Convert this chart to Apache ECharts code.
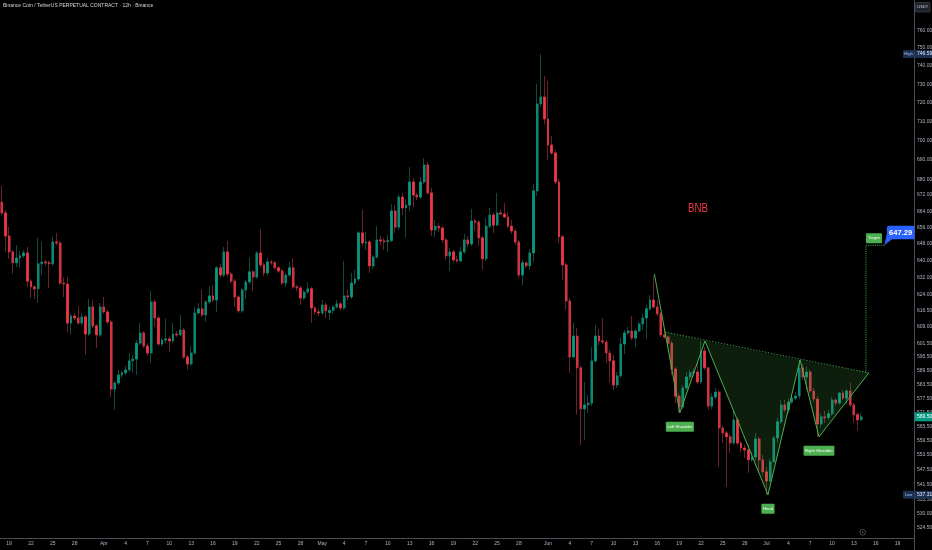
<!DOCTYPE html>
<html><head><meta charset="utf-8">
<script src="https://cdn.jsdelivr.net/npm/echarts@6/dist/echarts.min.js"></script>
<style>html,body{margin:0;padding:0;background:#000;}#c{width:932px;height:550px;}</style>
</head><body><div id="c"></div>
<script>
// ---- data ----
const startDate = '2024-03-18T00:00:00Z';   // first 12h candle
const slotCount = 251;                       // candle slots incl. empty future space
const opens = [668.5,663.1,651.8,644.1,638.9,641.2,642.2,643.6,630.2,627.5,626.6,638.4,639.3,638.9,638.4,648.9,648.4,629.3,628.8,610.8,
614.0,613.1,610.8,613.6,605.8,618.2,609.5,605.4,618.2,615.9,611.3,581.4,584.1,587.6,588.5,589.8,593.8,594.6,601.7,606.3,
600.4,597.3,620.5,613.1,601.3,603.1,603.6,602.7,605.8,605.4,607.6,595.5,592.4,597.3,615.4,617.3,614.5,620.5,623.3,621.4,
636.5,633.1,644.1,633.6,630.2,622.8,616.4,626.1,629.8,634.6,632.1,643.6,637.9,634.1,639.3,638.9,636.5,635.0,629.3,633.1,
636.5,627.5,627.0,622.3,625.1,626.6,617.7,615.9,615.4,619.1,615.6,616.6,618.2,619.6,617.7,623.3,622.8,629.3,631.2,653.3,
648.4,648.9,637.4,641.6,649.9,649.4,649.0,649.6,664.1,656.1,671.0,665.6,667.0,678.6,672.0,671.0,678.6,687.3,673.1,654.7,
656.6,655.7,649.9,642.2,644.1,640.3,639.8,644.1,649.9,647.9,659.1,658.6,650.9,640.8,656.6,662.1,657.1,663.1,662.6,661.1,
656.6,654.2,648.9,633.1,638.9,637.4,643.6,674.1,719.3,723.0,711.3,697.6,693.5,678.6,651.4,637.9,620.9,595.5,604.9,590.7,
572.9,574.6,575.4,593.8,604.9,602.7,602.2,597.3,593.8,583.2,587.2,601.3,606.3,607.2,604.0,607.2,610.4,613.1,617.3,621.4,
618.2,615.0,605.4,604.5,601.7,590.2,578.4,573.7,581.9,586.7,588.5,588.9,584.5,598.2,590.7,574.1,578.0,580.1,564.8,562.7,
561.1,558.5,568.2,558.5,556.4,555.6,551.5,552.7,560.2,551.5,546.6,542.9,550.7,560.6,567.4,574.6,572.5,575.8,577.5,578.4,
590.7,586.7,588.9,580.6,577.1,566.5,569.5,569.1,570.8,576.7,575.4,579.7,577.5,580.6,574.6,570.4,568.2];
const closes = [663.1,651.8,644.1,638.9,641.2,642.2,643.6,630.2,627.5,626.6,638.4,639.3,638.9,638.4,648.9,648.4,629.3,628.8,610.8,614.0,
613.1,610.8,613.6,605.8,618.2,609.5,605.4,618.2,615.9,611.3,581.4,584.1,587.6,588.5,589.8,593.8,594.6,601.7,606.3,600.4,
597.3,620.5,613.1,601.3,603.1,603.6,602.7,605.8,605.4,607.6,595.5,592.4,597.3,615.4,617.3,614.5,620.5,623.3,621.4,636.5,
633.1,644.1,633.6,630.2,622.8,616.4,626.1,629.8,634.6,632.1,643.6,637.9,634.1,639.3,638.9,636.5,635.0,629.3,633.1,636.5,
627.5,627.0,622.3,625.1,626.6,617.7,615.9,615.4,619.1,616.4,616.6,618.2,619.6,617.7,623.3,622.8,629.3,631.2,653.3,648.4,
648.9,637.4,641.6,649.9,649.4,649.0,649.6,664.1,656.1,671.0,665.6,667.0,678.6,672.0,671.0,678.6,687.3,673.1,654.7,656.6,
655.7,649.9,642.2,644.1,640.3,639.8,644.1,649.9,647.9,659.1,658.6,650.9,640.8,656.6,662.1,657.1,663.1,662.6,661.1,656.6,
654.2,648.9,633.1,638.9,637.4,643.6,674.1,719.3,723.0,711.3,697.6,693.5,678.6,651.4,637.9,620.9,595.5,604.9,590.7,572.9,
574.6,575.4,593.8,604.9,602.7,602.2,597.3,593.8,583.2,587.2,601.3,606.3,607.2,604.0,607.2,610.4,613.1,617.3,621.4,618.2,
615.0,605.4,604.5,601.7,590.2,578.4,573.7,581.9,586.7,588.5,588.9,584.5,598.2,590.7,574.1,578.0,580.1,564.8,562.7,561.1,
558.5,568.2,558.5,556.4,555.6,551.5,552.7,560.2,551.5,546.6,542.9,550.7,560.6,567.4,574.6,572.5,575.8,577.5,578.4,590.7,
586.7,588.9,580.6,577.1,566.5,569.5,569.1,570.8,576.7,575.4,579.7,577.5,580.6,574.6,570.4,568.2,569.5];
const highs = [676.6,664.6,656.2,645.0,647.4,644.5,645.0,646.5,631.2,628.4,650.9,648.9,640.3,639.8,651.4,653.3,649.4,632.1,632.1,614.8,
615.4,618.6,615.4,614.5,621.9,621.4,610.4,620.0,622.8,616.8,612.2,585.0,589.8,589.4,591.6,597.3,596.4,603.1,610.8,607.2,
601.7,625.6,621.4,614.0,604.0,612.7,604.5,610.8,607.2,614.5,608.5,596.4,600.4,618.2,620.0,626.1,621.4,627.9,628.4,637.4,
638.4,646.5,649.4,634.6,631.2,623.7,627.0,630.7,641.2,635.5,644.5,655.2,638.9,641.2,640.3,639.8,637.4,636.0,634.1,639.3,
640.8,628.4,627.9,626.1,629.8,627.5,618.6,617.3,621.4,620.0,618.2,619.1,621.4,620.5,639.8,626.1,634.1,635.5,654.2,664.6,
653.8,649.9,642.6,656.6,651.8,650.9,652.3,667.5,667.0,672.6,673.1,670.0,686.2,680.6,673.1,681.1,690.8,688.8,675.6,659.6,
658.1,656.6,650.9,646.0,645.0,642.2,646.5,652.8,651.8,665.1,660.1,659.6,651.8,660.6,665.6,663.1,673.1,664.6,668.0,663.6,
659.6,655.2,649.9,640.3,639.3,645.5,677.6,730.1,746.59,734.5,731.8,702.3,695.0,680.1,652.3,638.9,622.3,610.8,608.5,591.6,
584.5,578.8,599.9,609.9,608.1,613.1,603.1,598.6,596.4,588.9,604.0,607.6,609.0,614.0,608.1,611.3,615.0,619.1,623.7,632.6,
621.4,615.9,608.1,604.9,602.7,591.1,579.7,583.2,588.9,589.8,590.7,593.3,602.7,599.9,591.1,579.7,581.9,581.0,565.7,563.6,
562.3,572.5,569.1,559.4,557.7,557.7,554.8,562.7,561.1,553.5,548.6,551.9,561.5,569.1,576.7,576.7,577.5,579.3,580.1,594.2,
592.4,591.1,589.8,581.9,578.4,570.8,572.1,572.5,578.0,577.5,580.1,581.0,581.4,584.1,575.4,571.2,571.2];
const lows = [662.1,644.1,640.8,633.6,636.9,636.5,641.2,627.5,622.3,621.9,620.0,633.1,637.4,627.0,637.4,647.4,628.4,622.8,606.7,605.8,
612.2,609.9,609.5,596.4,604.9,608.5,599.5,604.5,615.0,610.4,578.0,572.5,583.2,586.3,587.6,588.9,588.5,587.6,600.8,599.5,
596.0,592.9,609.0,600.4,600.4,601.7,597.7,601.7,604.5,604.9,594.6,589.8,591.6,596.4,614.5,613.6,611.3,619.6,620.5,615.9,
632.1,632.1,632.6,629.3,618.2,615.4,615.4,621.9,628.8,625.6,631.2,636.9,632.6,633.1,637.9,635.5,634.1,628.4,627.5,632.1,
626.6,625.6,619.1,621.4,624.2,610.8,614.5,614.0,614.5,613.1,612.2,615.0,617.3,616.8,616.8,621.4,621.9,628.4,630.2,647.0,
645.0,634.1,636.0,640.8,647.4,645.0,644.1,648.9,653.3,654.7,662.1,650.9,664.1,666.0,669.5,670.0,677.6,672.1,651.8,651.4,
653.8,648.4,640.3,635.0,638.9,638.9,639.3,643.1,646.5,647.0,654.2,647.0,635.5,639.8,655.7,653.3,656.6,662.1,660.6,655.7,
652.8,647.4,631.7,628.4,636.5,635.5,639.3,671.6,717.7,708.4,689.8,692.4,677.6,648.4,630.7,616.8,588.5,595.1,570.4,557.7,
559.8,571.2,574.1,592.9,600.8,601.3,592.9,584.1,581.0,581.9,586.3,596.8,605.4,603.1,600.0,606.7,607.6,603.6,616.4,617.3,
614.0,604.5,603.6,600.0,587.6,575.4,571.2,572.9,581.0,585.4,587.2,583.6,583.6,589.8,572.5,572.9,577.1,548.6,558.5,540.5,
554.4,557.7,557.7,554.8,552.3,546.2,550.7,551.1,546.2,545.0,537.31,542.5,550.3,558.5,566.5,571.6,571.2,575.0,576.7,577.1,
585.4,581.0,579.7,575.8,561.1,564.8,566.9,568.2,569.9,574.1,574.6,576.7,574.6,573.7,566.9,563.6,567.8];
const priceTicks = [760,750,740,730,720,710,700,690,680,672,664,656,648,640,632,624,616.5,609,601.5,595.5,589.5,583.5,577.5,571.5,565.5,559.5,553.5,547.5,541.5,535.5,530,524.5];
const dayLabels = [1,4,7,10,13,16,19,22,25,28];
const monthNames = ['Jan','Feb','Mar','Apr','May','Jun','Jul','Aug','Sep','Oct','Nov','Dec'];
// inverse head & shoulders drawing: [candle index, price]
const patternPoints = [[179.2,633.6],[186.2,571.2],[193.1,602.7],[210.4,537.3],[219.2,594.2],[224.4,561.1],[238.1,588.5]];
const necklineStart = [182.1,606.7];
const patternLabels = [{name:'Left Shoulder',at:1},{name:'Head',at:3},{name:'Right Shoulder',at:5}];
const targetPrice = 647.29;
const targetStart = [237.3,588.5];
const targetEndIndex = 242.5;
const noteText = 'BNB';
const notePoint = [191.2,665.1];
const lastPrice = 569.50, highPrice = 746.59, lowPrice = 537.31;
const yMin = 520.27, yMax = 777.31;

// ---- build ----
const t0 = Date.parse(startDate);
const categories = [];
for (let k = 0; k < slotCount; k++) categories.push(new Date(t0 + k * 43200000).toISOString().slice(0, 16));
const toDate = v => new Date(v + ':00Z');

const wickData = opens.map((o, i) => [o, closes[i], lows[i], highs[i]]);
const bodyData = opens.map((o, i) => [o, closes[i], Math.min(o, closes[i]), Math.max(o, closes[i])]);

const GREEN = '#4caf50';
const FONT = '"Liberation Sans", Arial, sans-serif';

function renderDrawings(params, api) {
  const pt = (idx, price) => {
    const i0 = Math.floor(idx);
    const a = api.coord([i0, price]);
    const b = api.coord([i0 + 1, price]);
    return [a[0] + (b[0] - a[0]) * (idx - i0), a[1]];
  };
  const P = patternPoints.map(p => pt(p[0], p[1]));
  const N = pt(necklineStart[0], necklineStart[1]);
  const ch = [];
  [[N, P[1], P[2]], [P[2], P[3], P[4]], [P[4], P[5], P[6]]].forEach(tri =>
    ch.push({type: 'polygon', shape: {points: tri}, style: {fill: 'rgba(76,175,80,0.17)', stroke: null}}));
  ch.push({type: 'polyline', shape: {points: P}, style: {stroke: GREEN, lineWidth: 1, fill: null}});
  ch.push({type: 'line', shape: {x1: N[0], y1: N[1], x2: P[6][0], y2: P[6][1]},
    style: {stroke: GREEN, lineWidth: 0.8, lineDash: [1.5, 1.5]}});
  patternLabels.forEach(l => {
    const p = P[l.at];
    ch.push({type: 'text', x: p[0], y: p[1] + 14, style: {text: l.name, fill: '#ffffff', fontSize: 4.2, fontFamily: FONT,
      align: 'center', verticalAlign: 'middle', backgroundColor: GREEN, padding: [3, 1.6], borderRadius: 1}});
  });
  // target
  const a = pt(targetStart[0], targetStart[1]);
  const b = pt(targetStart[0], targetPrice);
  const e = pt(targetEndIndex, targetPrice);
  ch.push({type: 'polyline', shape: {points: [a, b, e]}, style: {stroke: GREEN, lineWidth: 1, lineDash: [1, 1.2], fill: null}});
  ch.push({type: 'text', x: b[0], y: b[1] - 2, style: {text: 'Target', fill: '#ffffff', fontSize: 4.2, fontFamily: FONT,
    align: 'left', verticalAlign: 'bottom', backgroundColor: GREEN, padding: [3, 2.2], borderRadius: 1}});
  const x0 = e[0] + 2, y0 = e[1] - 19.5;
  ch.push({type: 'polygon', shape: {points: [[x0, y0 + 8], [x0 + 5, y0 + 13.5], [e[0] - 0.5, e[1]]]}, style: {fill: '#2962ff'}});
  ch.push({type: 'rect', shape: {x: x0, y: y0, width: 27.5, height: 13.5, r: [2, 0, 0, 2]}, style: {fill: '#2962ff'}});
  ch.push({type: 'text', x: x0 + 13.7, y: y0 + 7, style: {text: targetPrice.toFixed(2), fill: '#ffffff', fontSize: 7.6,
    fontWeight: 'bold', fontFamily: FONT, align: 'center', verticalAlign: 'middle'}});
  // note
  const n = pt(notePoint[0], notePoint[1]);
  ch.push({type: 'text', x: n[0], y: n[1], scaleX: 0.78, style: {text: noteText, fill: '#f23645', fontSize: 12.5,
    fontFamily: FONT, align: 'center', verticalAlign: 'middle'}});
  return {type: 'group', children: ch};
}

const chart = echarts.init(document.getElementById('c'), null, {renderer: 'canvas'});
const option = {
  backgroundColor: '#000000',
  animation: false,
  grid: {left: 0, right: 18, top: 0, bottom: 12, containLabel: false, outerBoundsMode: 'none'},
  xAxis: {
    type: 'category', data: categories, boundaryGap: true,
    axisLine: {show: true, lineStyle: {color: '#4a4d55', width: 1}},
    axisTick: {show: false}, splitLine: {show: false},
    axisLabel: {
      color: '#b2b5be', fontSize: 5, fontFamily: FONT, margin: 3.5,
      interval: (idx, v) => { const d = toDate(v); return d.getUTCHours() === 0 && dayLabels.includes(d.getUTCDate()); },
      formatter: v => { const d = toDate(v); return d.getUTCDate() === 1 ? monthNames[d.getUTCMonth()] : String(d.getUTCDate()); }
    }
  },
  yAxis: {
    type: 'log', logBase: 10, position: 'right', min: yMin, max: yMax,
    axisLine: {show: true, lineStyle: {color: '#4a4d55', width: 1}},
    axisTick: {show: false}, splitLine: {show: false}, minorTick: {show: false}, minorSplitLine: {show: false},
    axisLabel: {customValues: priceTicks, color: '#b2b5be', fontSize: 5, fontFamily: FONT, margin: 3,
      formatter: v => Number(v).toFixed(2)}
  },
  series: [
    {type: 'candlestick', name: 'wick', data: wickData, barWidth: 2.4,
      itemStyle: {color: '#0d4a40', color0: '#6b2129', borderColor: '#0d4a40', borderColor0: '#6b2129', borderWidth: 1}},
    {type: 'candlestick', name: 'body', data: bodyData, barWidth: 1.9, z: 3,
      itemStyle: {color: '#089981', color0: '#f23645', borderColor: '#089981', borderColor0: '#f23645', borderWidth: 0.6}},
    {type: 'custom', name: 'drawings', data: [[0, 600]], renderItem: renderDrawings, z: 5, clip: false, silent: true}
  ]
};
chart.setOption(option);

const yOf = v => chart.convertToPixel({yAxisIndex: 0}, v);
function sideTag(price, name) {
  const y = yOf(price);
  return [
    {type: 'rect', z: 100, shape: {x: 903, y: y - 4, width: 11, height: 8, r: 1}, style: {fill: '#1b2f50'}},
    {type: 'text', z: 101, x: 908.5, y: y, style: {text: name, fill: '#a9c6f2', fontSize: 4.2, fontFamily: FONT, align: 'center', verticalAlign: 'middle'}},
    {type: 'rect', z: 100, shape: {x: 914.5, y: y - 4, width: 17.5, height: 8}, style: {fill: '#1b2f50'}},
    {type: 'text', z: 101, x: 917, y: y, style: {text: price.toFixed(2), fill: '#dfeaff', fontSize: 5, fontFamily: FONT, align: 'left', verticalAlign: 'middle'}}
  ];
}
const yl = yOf(lastPrice);
chart.setOption({graphic: [
  {type: 'text', z: 100, left: 3, top: 3, style: {text: 'Binance Coin / TetherUS PERPETUAL CONTRACT · 12h · Binance', fill: '#d1d4dc', fontSize: 5, fontFamily: FONT}},
  {type: 'rect', z: 100, shape: {x: 915.5, y: 2.5, width: 14.5, height: 9.5, r: 1}, style: {fill: '#1e222d', stroke: '#4a4d55', lineWidth: 0.6}},
  {type: 'text', z: 101, x: 922.7, y: 7.3, style: {text: 'USDT', fill: '#d1d4dc', fontSize: 4, fontFamily: FONT, align: 'center', verticalAlign: 'middle'}},
  ...sideTag(highPrice, 'High'),
  ...sideTag(lowPrice, 'Low'),
  {type: 'rect', z: 100, shape: {x: 914.5, y: yl - 4.5, width: 17.5, height: 9}, style: {fill: '#089981'}},
  {type: 'text', z: 101, x: 917, y: yl, style: {text: lastPrice.toFixed(2), fill: '#ffffff', fontSize: 5, fontFamily: FONT, align: 'left', verticalAlign: 'middle'}},
  {type: 'line', z: 100, shape: {x1: 914.5, y1: 538, x2: 914.5, y2: 550}, style: {stroke: '#4a4d55', lineWidth: 1}},
  {type: 'circle', z: 100, shape: {cx: 862.7, cy: 532.3, r: 2.8}, style: {fill: 'none', stroke: '#787b86', lineWidth: 0.6}},
  {type: 'circle', z: 100, shape: {cx: 862.7, cy: 532.3, r: 0.7}, style: {fill: '#787b86'}}
]});
</script></body></html>
